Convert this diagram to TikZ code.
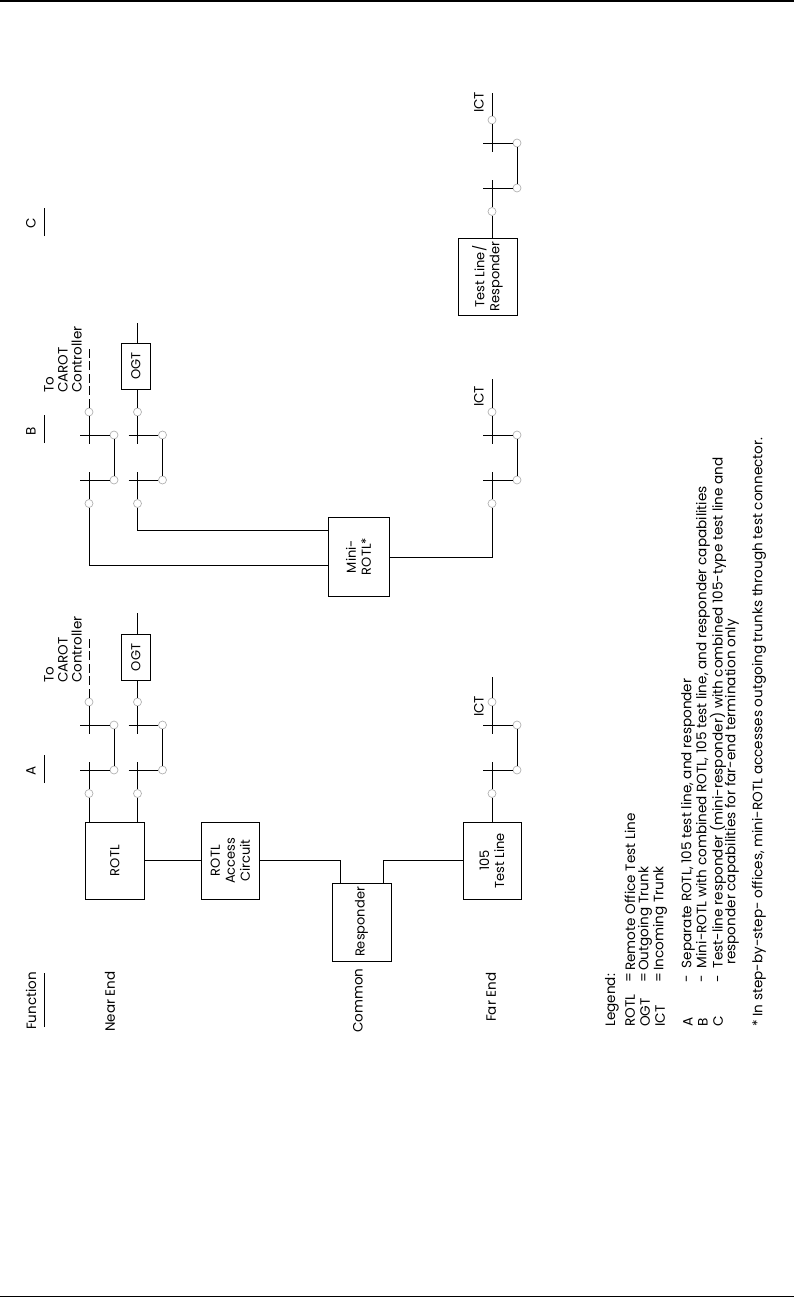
\documentclass[tikz,border=0pt]{standalone}
\usepackage{fontspec}
\setmainfont{Poppins}
\tikzset{
  wire/.style={line width=0.9pt,black},
  box/.style={draw,line width=0.9pt,fill=none,inner sep=0pt,rotate=90,align=center,font=\fontsize{13}{15}\selectfont},
  port/.style={circle,draw=black!30,fill=white,line width=0.7pt,minimum size=8pt,inner sep=0pt},
  lab/.style={rotate=90,anchor=west,inner sep=0pt,font=\fontsize{13.5}{14}\selectfont,align=left},
  legend/.style={rotate=90,anchor=west,inner sep=0pt,font=\fontsize{13.6}{15}\selectfont},
}
\newcommand{\contactset}[3]{%
  \node[port] (#1u) at (#2,#3) {};
  \node[port] (#1l) at (#2,#3+91.5) {};
  \node[port] (#1a) at (#2+25,#3+23) {};
  \node[port] (#1b) at (#2+25,#3+68) {};
  \coordinate (#1p) at (#2,#3+32);
  \coordinate (#1q) at (#2,#3+60);
  \coordinate (#1r) at (#2-9,#3+23);
  \coordinate (#1s) at (#2-9,#3+68);
  \draw[wire] (#1u) -- (#1p);
  \draw[wire] (#1l) -- (#1q);
  \draw[wire] (#1r) -- (#1a);
  \draw[wire] (#1s) -- (#1b);
  \draw[wire] (#1a) -- (#1b);
}
\begin{document}
\begin{tikzpicture}[x=1pt,y=-1pt]
\useasboundingbox (0,0) rectangle (794,1298);
\coordinate (tl) at (0,1); \coordinate (tr) at (794,1);
\coordinate (bl) at (0,1296.5); \coordinate (br) at (794,1296.5);
\draw[line width=1.2pt] (tl) -- (tr);
\draw[line width=1.2pt] (bl) -- (br);

% boxes
\node[box,minimum width=77pt,minimum height=59pt] (rotl) at (114.8,860.7) {ROTL};
\node[box,minimum width=77pt,minimum height=58pt] (access) at (230.3,860.7) {ROTL\\Access\\Circuit};
\node[box,minimum width=78pt,minimum height=59pt] (resp) at (361.5,922) {Responder};
\node[box,minimum width=77pt,minimum height=58pt] (tl105) at (492,860.7) {105\\Test Line};
\node[box,minimum width=46pt,minimum height=29pt] (ogta) at (135.8,657.5) {OGT};
\node[box,minimum width=46pt,minimum height=29pt] (ogtb) at (135.8,366) {OGT};
\node[box,minimum width=79pt,minimum height=61pt] (mini) at (358.5,556.5) {Mini-\\ROTL*};
\node[box,minimum width=77pt,minimum height=59pt] (tlr) at (487.5,276.5) {Test Line/\\Responder};

% contact sets
\contactset{aa}{89}{702}
\contactset{ab}{137.5}{702}
\contactset{ac}{492}{702}
\contactset{ba}{89}{412}
\contactset{bb}{137.5}{412}
\contactset{bc}{492}{412}
\contactset{cc}{492}{120}

% column A
\coordinate (rotlA) at (89,822.2);
\coordinate (rotlB) at (137.5,822.2);
\draw[wire] (aal) -- (rotlA);
\draw[wire] (abl) -- (rotlB);
\coordinate (aad) at (89,637);
\draw[wire,dash pattern=on 9pt off 3.5pt] (aau) -- (aad);
\coordinate (ogtAe) at (137.5,613);
\coordinate (ogtAs) at (137.5,634.5);
\coordinate (ogtAb) at (137.5,680.5);
\draw[wire] (abu) -- (ogtAb);
\draw[wire] (ogtAs) -- (ogtAe);
\coordinate (acb) at (492,822.2);
\coordinate (ace) at (492,677);
\draw[wire] (acl) -- (acb);
\draw[wire] (acu) -- (ace);
\draw[wire] (rotl.south) -- (access.north);
\coordinate (r1) at (340,860.7);
\coordinate (r1b) at (340,883);
\coordinate (r2) at (383,860.7);
\coordinate (r2b) at (383,883);
\draw[wire] (access.south) -- (r1) -- (r1b);
\draw[wire] (tl105.north) -- (r2) -- (r2b);

% column B
\coordinate (m1) at (328,565);
\coordinate (m1c) at (89,565);
\coordinate (m2) at (328,530);
\coordinate (m2c) at (137.5,530);
\draw[wire] (bal) -- (m1c) -- (m1);
\draw[wire] (bbl) -- (m2c) -- (m2);
\coordinate (bad) at (89,347);
\draw[wire,dash pattern=on 9pt off 3.5pt] (bau) -- (bad);
\coordinate (ogtBb) at (137.5,389);
\coordinate (ogtBs) at (137.5,343);
\coordinate (ogtBe) at (137.5,323);
\draw[wire] (bbu) -- (ogtBb);
\draw[wire] (ogtBs) -- (ogtBe);
\coordinate (mc) at (492,557);
\coordinate (mr) at (389,557);
\draw[wire] (mr) -- (mc) -- (bcl);
\coordinate (bce) at (492,379);
\draw[wire] (bcu) -- (bce);

% column C
\coordinate (ccb) at (492,238);
\coordinate (cce) at (492,93);
\draw[wire] (ccl) -- (ccb);
\draw[wire] (ccu) -- (cce);

% headings
\node[lab] (lf) at (31,1030) {Function};
\coordinate (uf1) at (44,1027); \coordinate (uf2) at (44,973);
\draw[wire] (uf1) -- (uf2);
\node[lab] (la) at (31,776) {A};
\coordinate (ua1) at (44,783); \coordinate (ua2) at (44,755);
\draw[wire] (ua1) -- (ua2);
\node[lab] (lb) at (31,436) {B};
\coordinate (ub1) at (44,443); \coordinate (ub2) at (44,415);
\draw[wire] (ub1) -- (ub2);
\node[lab] (lc) at (31,229) {C};
\coordinate (uc1) at (44,236); \coordinate (uc2) at (44,208);
\draw[wire] (uc1) -- (uc2);
\node[lab] (ln) at (110,1032) {Near End};
\node[lab] (lcm) at (358,1033) {Common};
\node[lab] (lfe) at (491,1022) {Far End};
\node[lab] (tca) at (63,683) {To\\CAROT\\Controller};
\node[lab] (tcb) at (63,393) {To\\CAROT\\Controller};
\node[lab] (ica) at (479,717) {ICT};
\node[lab] (icb) at (479,407) {ICT};
\node[lab] (icc) at (479,113) {ICT};

% legend
\node[legend] (lg0) at (612,1027) {Legend:};
\node[legend] (lg1) at (630,1027) {ROTL};
\node[legend] (lg1e) at (630,983) {=};
\node[legend] (lg1t) at (630,971) {Remote Office Test Line};
\node[legend] (lg2) at (645,1027) {OGT};
\node[legend] (lg2e) at (645,983) {=};
\node[legend] (lg2t) at (645,971) {Outgoing Trunk};
\node[legend] (lg3) at (660,1027) {ICT};
\node[legend] (lg3e) at (660,983) {=};
\node[legend] (lg3t) at (660,971) {Incoming Trunk};
\node[legend] (ka) at (688,1027) {A};
\node[legend] (kat) at (688,983) {-\ \ Separate ROTL, 105 test line, and responder};
\node[legend] (kb) at (703,1027) {B};
\node[legend] (kbt) at (703,983) {-\ \ Mini-ROTL with combined ROTL, 105 test line, and responder capabilities};
\node[legend] (kc) at (718,1027) {C};
\node[legend] (kct) at (718,983) {-\ \ Test-line responder (mini-responder) with combined 105-type test line and};
\node[legend] (kd) at (732,965) {responder capabilities for far-end termination only};
\node[legend] (fn) at (759,1027) {* In step-by-step- offices, mini-ROTL accesses outgoing trunks through test connector.};
\end{tikzpicture}
\end{document}
